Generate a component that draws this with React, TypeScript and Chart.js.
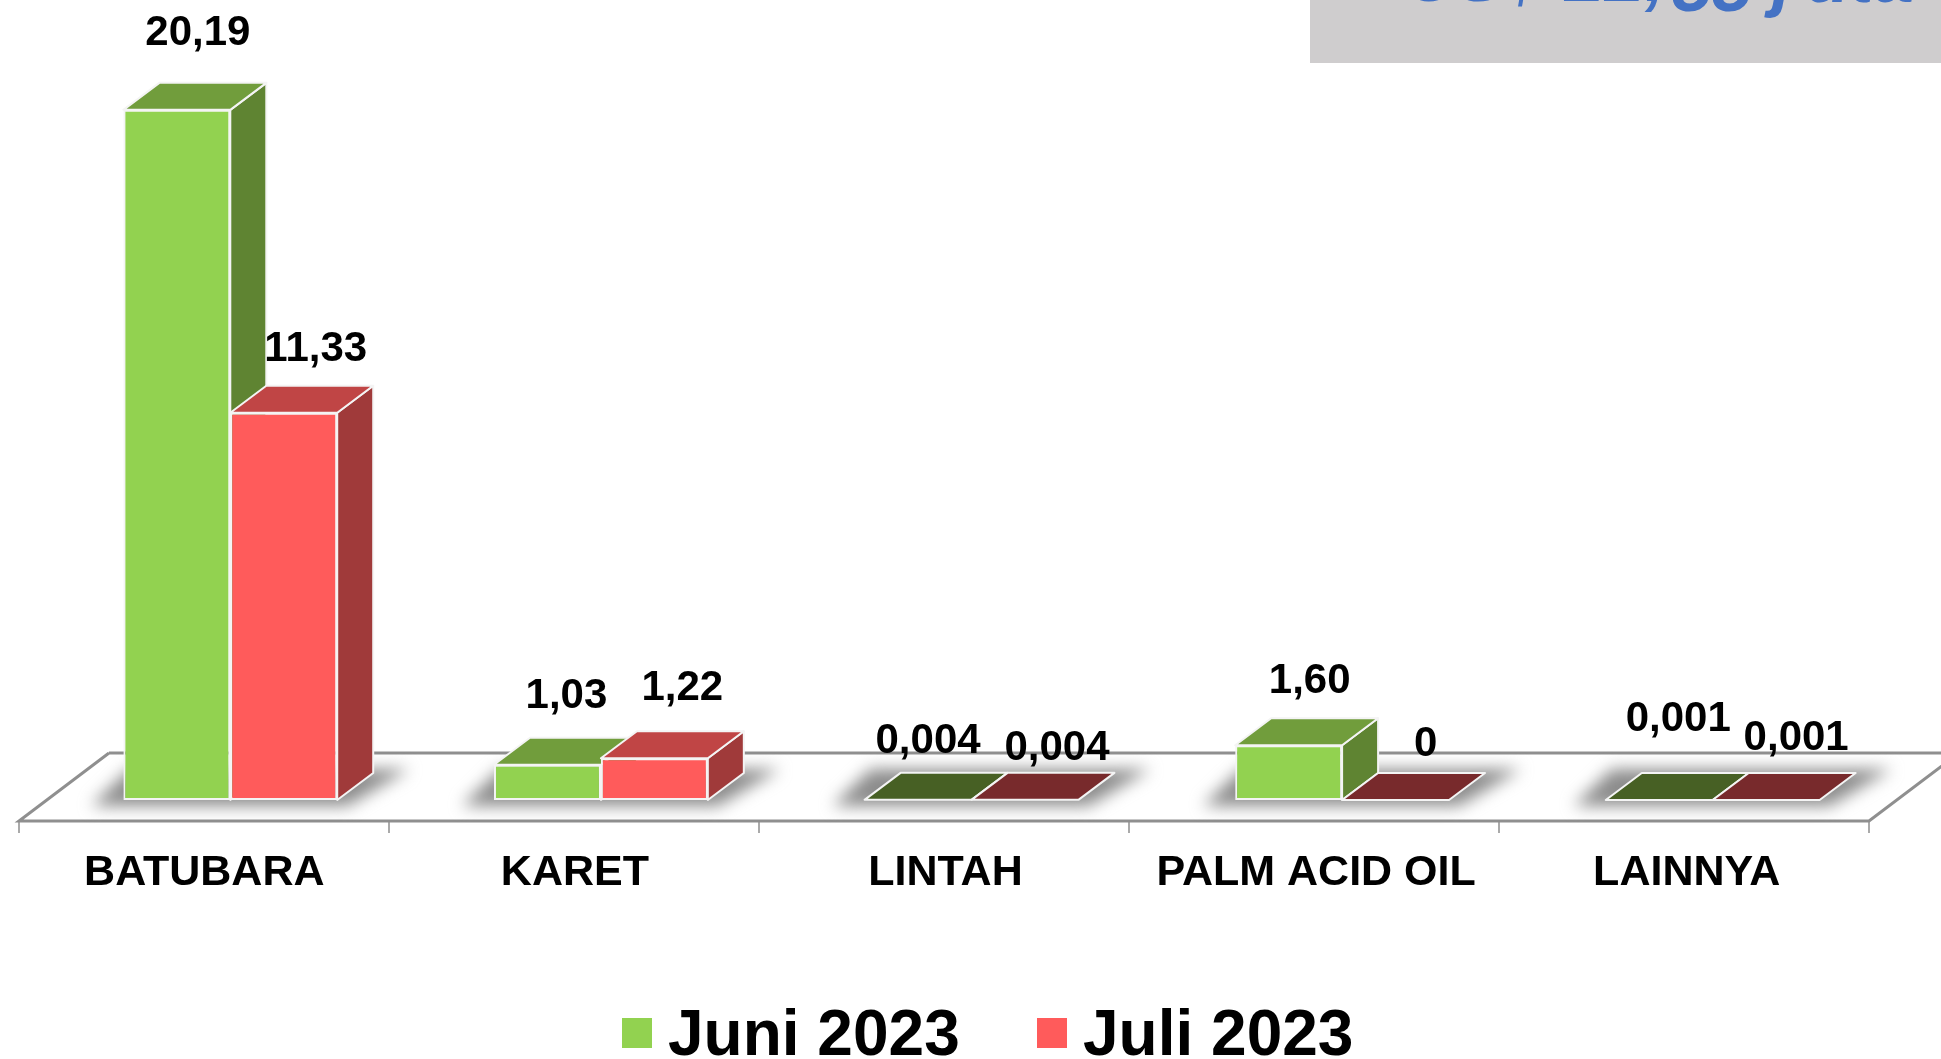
import React, { useEffect, useRef } from "react";
import { Chart, registerables } from "chart.js";

Chart.register(...registerables);

const categories = ["BATUBARA", "KARET", "LINTAH", "PALM ACID OIL", "LAINNYA"];
const juni2023 = [20.19, 1.03, 0.004, 1.6, 0.001];
const juli2023 = [11.33, 1.22, 0.004, 0, 0.001];
const juniLabels = ["20,19", "1,03", "0,004", "1,60", "0,001"];
const juliLabels = ["11,33", "1,22", "0,004", "0", "0,001"];
const seriesNames = ["Juni 2023", "Juli 2023"];

const FONT = '"Liberation Sans", Arial, sans-serif';
const faces = [
  { front: "#92D250", top: "#719D3C", side: "#5F8432", flat: "#476024" },
  { front: "#FF5B5B", top: "#C04545", side: "#A03A3A", flat: "#782A2C" },
];
const DEPTH_X = 36;
const DEPTH_Y = 27;
const FLOOR_DROP = 21;
const FLOOR_SHIFT = 26;
const FLOOR_X = 90;
const FLOOR_Y = 68;
const FLOOR_WIDTH = 1850;
const labelNudge = [
  [[21, -76], [32, -63]],
  [[19, -68], [28, -70]],
  [[10, -58], [32, -51]],
  [[21, -64], [30, -56]],
  [[19, -81], [30, -62]],
];

function poly(ctx: CanvasRenderingContext2D, pts: number[][], fill: string, stroke = true) {
  ctx.beginPath();
  pts.forEach((p, i) => (i ? ctx.lineTo(p[0], p[1]) : ctx.moveTo(p[0], p[1])));
  ctx.closePath();
  ctx.fillStyle = fill;
  ctx.fill();
  if (stroke) {
    ctx.strokeStyle = "#F4F4F4";
    ctx.lineWidth = 2;
    ctx.lineJoin = "round";
    ctx.stroke();
  }
}

const scene3d = {
  id: "scene3d",
  beforeDatasetsDraw(chart: any) {
    const { ctx } = chart;
    const x = chart.scales.x;
    const y = chart.scales.y;
    const base = y.getPixelForValue(0);
    const front = base + FLOOR_DROP;
    const back = front - FLOOR_Y;
    const left = x.left - FLOOR_SHIFT;
    const right = left + FLOOR_WIDTH;
    ctx.save();
    // floor
    ctx.strokeStyle = "#8F8F8F";
    ctx.lineWidth = 3;
    ctx.beginPath();
    ctx.moveTo(left + FLOOR_X, back);
    ctx.lineTo(left, front);
    ctx.lineTo(right, front);
    ctx.lineTo(right + FLOOR_X, back);
    ctx.moveTo(left + FLOOR_X, back);
    ctx.lineTo(right + FLOOR_X, back);
    ctx.stroke();
    // ticks
    ctx.lineWidth = 1.5;
    ctx.beginPath();
    const step = (right - left) / categories.length;
    for (let i = 0; i <= categories.length; i++) {
      ctx.moveTo(left + i * step, front);
      ctx.lineTo(left + i * step, front + 12);
    }
    ctx.stroke();
    // contact shadows
    const a = chart.getDatasetMeta(0).data;
    const b = chart.getDatasetMeta(1).data;
    categories.forEach((_, i) => {
      const l = a[i].x - a[i].width / 2;
      const r = b[i].x + b[i].width / 2;
      ctx.save();
      ctx.filter = "blur(8px)";
      ctx.beginPath();
      ctx.moveTo(l - 32, base + 6);
      ctx.lineTo(r + 10, base + 6);
      ctx.lineTo(r + DEPTH_X + 36, base - DEPTH_Y - 4);
      ctx.lineTo(l + 6, base - DEPTH_Y - 4);
      ctx.closePath();
      ctx.fillStyle = "#8C8C8C";
      ctx.fill();
      ctx.restore();
    });
    // side and top faces
    categories.forEach((_, i) => {
      [a[i], b[i]].forEach((bar: any, s: number) => {
        const l = bar.x - bar.width / 2;
        const r = bar.x + bar.width / 2;
        const t = bar.y;
        const flat = base - t < 3;
        if (!flat) {
          poly(ctx, [[r, t], [r + DEPTH_X, t - DEPTH_Y], [r + DEPTH_X, base - DEPTH_Y], [r, base]], faces[s].side);
        }
        poly(ctx, [[l, t], [l + DEPTH_X, t - DEPTH_Y], [r + DEPTH_X, t - DEPTH_Y], [r, t]], flat ? faces[s].flat : faces[s].top);
      });
    });
    ctx.restore();
  },
  afterDatasetsDraw(chart: any) {
    const { ctx } = chart;
    ctx.save();
    ctx.fillStyle = "#000";
    ctx.font = `bold 42px ${FONT}`;
    ctx.textAlign = "center";
    ctx.textBaseline = "middle";
    [juniLabels, juliLabels].forEach((labels, s) => {
      const bars = chart.getDatasetMeta(s).data;
      labels.forEach((text, i) => {
        const [dx, dy] = labelNudge[i][s];
        ctx.fillText(text, bars[i].x + dx, bars[i].y + dy);
      });
    });
    // clipped callout in the corner
    ctx.fillStyle = "#CFCDCE";
    ctx.fillRect(1310, 0, 631, 63);
    ctx.fillStyle = "#4472C4";
    ctx.font = `italic bold 72px ${FONT}`;
    ctx.textAlign = "left";
    ctx.textBaseline = "alphabetic";
    ctx.fillText("US$ 22,", 1405, 1);
    ctx.fillText("55", 1672, 11);
    ctx.fillText("j", 1772, 3);
    ctx.fillText("uta", 1806, 2);
    ctx.restore();
  },
};

export default function App() {
  const ref = useRef<HTMLCanvasElement>(null);
  useEffect(() => {
    const chart = new Chart(ref.current!, {
      type: "bar",
      data: {
        labels: categories,
        datasets: [juni2023, juli2023].map((values, s) => ({
          label: seriesNames[s],
          data: values,
          backgroundColor: faces[s].front,
          borderColor: "#F4F4F4",
          borderWidth: 2,
          borderSkipped: false,
          categoryPercentage: 0.577,
          barPercentage: 1,
        })),
      },
      options: {
        responsive: false,
        animation: false,
        layout: { padding: { left: 45, right: 43, top: 48, bottom: 0 } },
        plugins: { legend: { display: false }, tooltip: { enabled: false } },
        scales: {
          x: {
            grid: { display: false, drawTicks: false },
            border: { display: false },
            afterFit: (s: any) => {
              s.height = 259;
            },
            ticks: {
              color: "#000",
              padding: 47,
              labelOffset: -FLOOR_SHIFT,
              maxRotation: 0,
              autoSkip: false,
              font: { family: FONT, size: 43, weight: "bold" },
            },
          },
          y: { display: false, min: 0, max: 22 },
        },
      },
      plugins: [scene3d],
    } as any);
    return () => chart.destroy();
  }, []);

  return (
    <div style={{ position: "absolute", left: 0, top: 0, width: 1941, height: 1059, overflow: "hidden", background: "#fff" }}>
      <canvas ref={ref} width={1941} height={1059} style={{ display: "block" }} />
      <div style={{ position: "absolute", left: 0, top: 0, width: 1941, height: 1059, pointerEvents: "none" }}>
        {seriesNames.map((name, s) => (
          <div key={name} style={{ position: "absolute", left: s ? 1037 : 622, top: 996, height: 74, display: "flex", alignItems: "center", whiteSpace: "nowrap" }}>
            <span style={{ width: 30, height: 30, marginRight: 16, background: faces[s].front, display: "inline-block" }} />
            <span style={{ font: `bold 64px ${FONT}`, color: "#000", lineHeight: "74px" }}>{name}</span>
          </div>
        ))}
      </div>
    </div>
  );
}
